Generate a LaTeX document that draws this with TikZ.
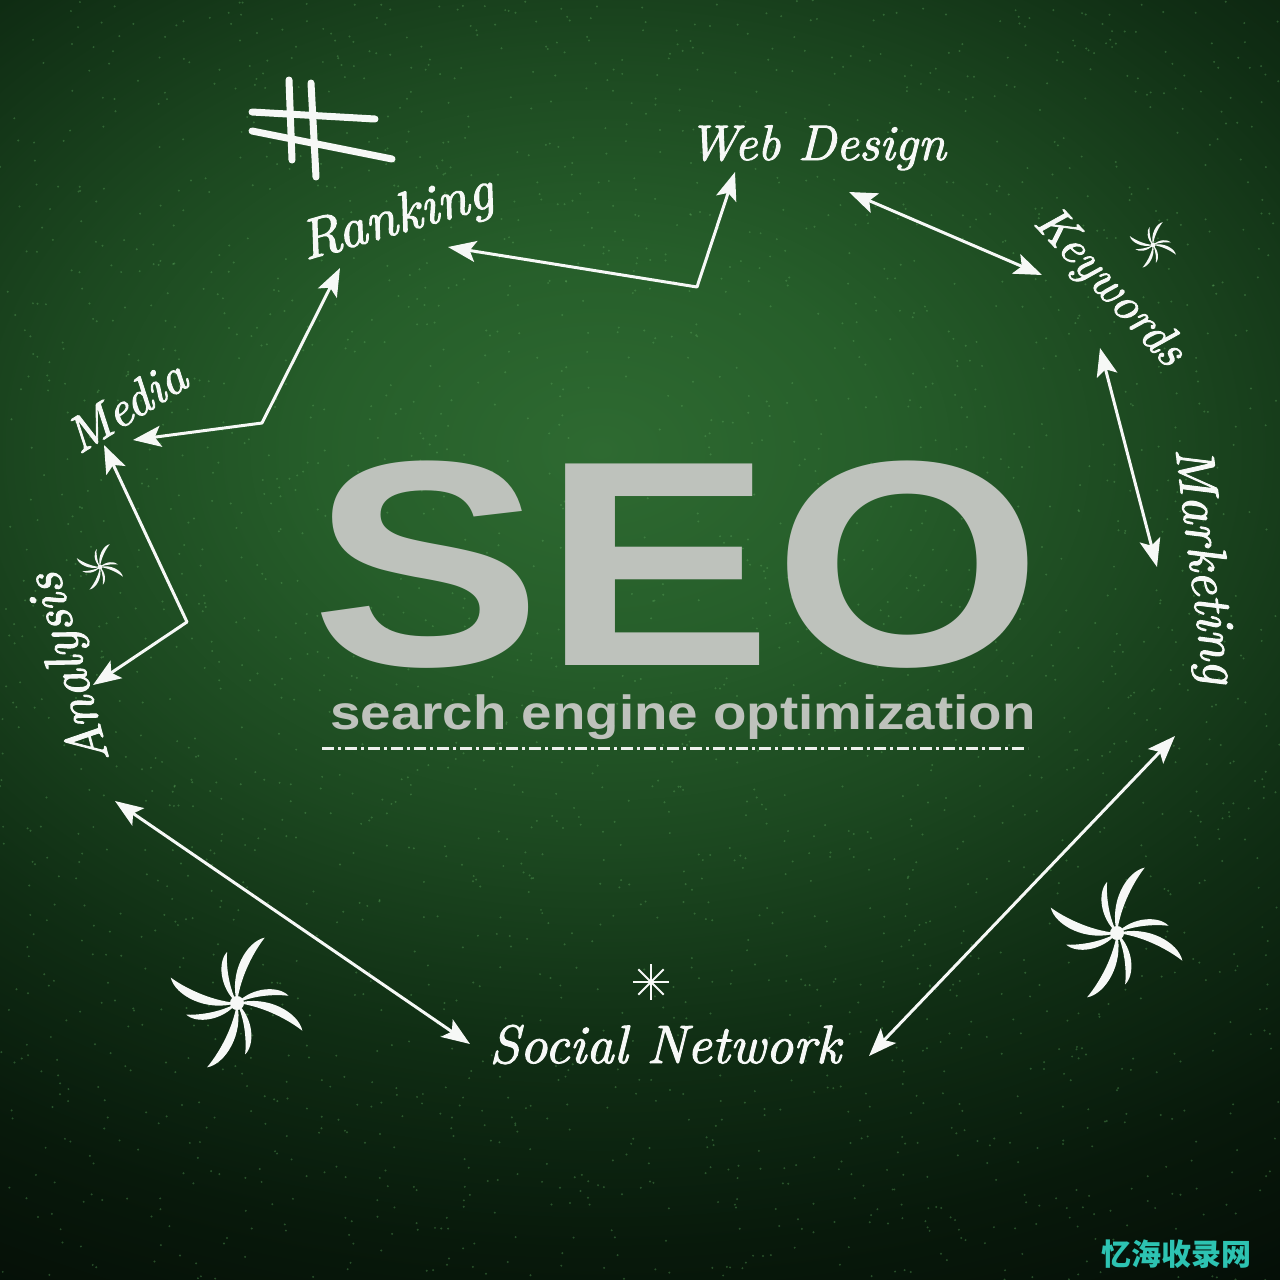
\documentclass[tikz,border=0pt]{standalone}
\usepackage{fontspec}
\usetikzlibrary{arrows.meta}
\newfontfamily\seofont{Liberation Sans}
\newfontfamily\handfont{lmroman10-italic.otf}[FakeBold=1.8]
\newfontfamily\cjkfont{Noto Sans CJK SC}
\definecolor{bgA}{RGB}{46,106,49}
\definecolor{bgB}{RGB}{38,94,42}
\definecolor{bgC}{RGB}{28,72,32}
\definecolor{bgD}{RGB}{16,46,20}
\definecolor{bgE}{RGB}{8,25,11}
\definecolor{bgF}{RGB}{4,12,6}
\definecolor{seogrey}{RGB}{190,194,188}
\definecolor{speck}{RGB}{90,165,90}
\definecolor{chalk}{RGB}{246,248,246}
\definecolor{wmteal}{RGB}{45,195,178}
\pgfdeclareradialshading{bgshade}{\pgfpoint{0bp}{0bp}}{color(0bp)=(bgA); color(5bp)=(bgB); color(10bp)=(bgC); color(15bp)=(bgD); color(20bp)=(bgE); color(25bp)=(bgF); color(50bp)=(bgF)}
\tikzset{
  lbl/.style={text=chalk, inner sep=0pt, anchor=base},
  hand/.style={font=\handfont\fontsize{#1}{#1}\selectfont},
  conn/.style={draw=chalk, line width=3pt, line join=round,
    arrows={Stealth[length=28pt,width=21pt,inset=6pt]-Stealth[length=28pt,width=21pt,inset=6pt]}},
  hashline/.style={draw=chalk, line width=7pt, line cap=round},
  armfill/.style={fill=chalk},
}
\newcommand\swirlstar[3]{%
  \begin{scope}[shift={(#1,#2)},yscale=-1,scale=#3]
    \foreach \a/\r in {67/71,159/71,245/71,337/71,101/52,193/52,279/52,8/52}{
      \fill[armfill] (0,0) .. controls ({\a+38}:{0.45*\r}) and ({\a+14}:{0.88*\r}) .. (\a:\r)
        .. controls ({\a+4}:{0.8*\r}) and ({\a+16}:{0.4*\r}) .. (0,0) -- cycle;
    }
    \fill[armfill] (0,0) circle (7);
  \end{scope}}
\begin{document}
\begin{tikzpicture}[x=1pt,y=-1pt]
\useasboundingbox (0,0) rectangle (1280,1280);
\begin{scope}
  \clip (0,0) rectangle (1280,1280);
  \fill[bgF] (0,0) rectangle (1280,1280);
  \shade[shading=bgshade] (600,450) ellipse [x radius=1400, y radius=1000];
  \pgfmathsetseed{7}
  \foreach \i in {1,...,2600}{
    \fill[speck, opacity=0.4] ({rnd*1280},{rnd*1280}) circle (1.1);
  }
\end{scope}

% central title
\node[text=seogrey, inner sep=0pt, anchor=base, xscale=1.18, text depth=0pt,
      font=\seofont\bfseries\fontsize{293}{293}\selectfont] (seo) at (677,665) {SEO};
\node[text=seogrey, inner sep=0pt, anchor=base, xscale=1.14, text height=34pt,
      font=\seofont\bfseries\fontsize{48}{48}\selectfont] (sub) at (683,729) {search engine optimization};
\draw[draw=chalk!85!seogrey, line width=3pt, dash pattern=on 12pt off 4pt on 3pt off 4pt] (322,748) -- (1028,748);

% labels
\node[lbl, hand=50] (web) at (817,160) {Web Design};
\node[lbl, hand=56, rotate=16] (rank) at (401,233) {Ranking};
\node[lbl, hand=50, rotate=32] (media) at (135,420) {Media};
\node[lbl, hand=54, rotate=105] (anal) at (84,665) {Analysis};
\node[lbl, hand=48, rotate=-47] (kw) at (1100,296) {Keywords};
\node[lbl, hand=54, rotate=-83] (mkt) at (1190,567) {Marketing};
\node[lbl, hand=54] (soc) at (665,1063) {Social Network};

% connector end points
\coordinate (rk-e) at (448,247);
\coordinate (rw-bend) at (697,287);
\coordinate (wd-w) at (735,172);
\coordinate (wd-e) at (849,192);
\coordinate (kw-n) at (1042,275);
\coordinate (kw-s) at (1100,348);
\coordinate (mk-n) at (1157,567);
\coordinate (mk-s) at (1175,736);
\coordinate (sn-e) at (869,1056);
\coordinate (sn-w) at (470,1044);
\coordinate (an-s) at (115,801);
\coordinate (an-n) at (93,685);
\coordinate (am-bend) at (187,622);
\coordinate (md-s) at (104,445);
\coordinate (md-e) at (133,440);
\coordinate (mr-bend) at (262,423);
\coordinate (rk-s) at (340,268);

\draw[conn] (rk-e) -- (rw-bend) -- (wd-w);
\draw[conn] (wd-e) -- (kw-n);
\draw[conn] (kw-s) -- (mk-n);
\draw[conn] (mk-s) -- (sn-e);
\draw[conn] (sn-w) -- (an-s);
\draw[conn] (an-n) -- (am-bend) -- (md-s);
\draw[conn] (md-e) -- (mr-bend) -- (rk-s);

% hash mark
\draw[hashline] (289,80) -- (292,160);
\draw[hashline] (311,83) -- (316,177);
\draw[hashline] (252,112) -- (375,119);
\draw[hashline] (252,131) -- (392,159);

% swirl stars
\swirlstar{237}{1003}{1}
\swirlstar{1117}{933}{1}
\swirlstar{100}{567}{0.35}
\swirlstar{1153}{245}{0.35}

% asterisk
\foreach \a in {0,45,...,315}{
  \draw[draw=chalk, line width=2pt] (651,982) -- ++(\a:18);
}

% watermark
\node[text=wmteal, inner sep=0pt, font=\cjkfont\bfseries\fontsize{30}{30}\selectfont] (wm) at (1176,1254) {忆海收录网};
\end{tikzpicture}
\end{document}
